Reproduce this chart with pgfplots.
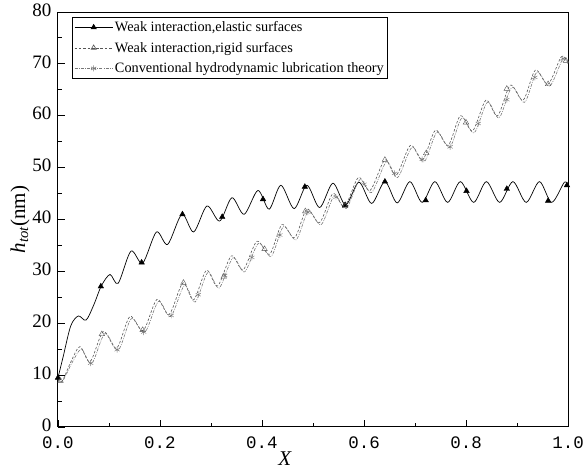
\documentclass[border=0pt]{standalone}
\usepackage{pgfplots}
\pgfplotsset{compat=1.18}
\usepackage{fontspec}
\setmainfont{Liberation Serif}
\newfontfamily\tickmono{Liberation Mono}
\definecolor{rigidgray}{RGB}{85,85,85}
\definecolor{convgray}{RGB}{120,120,120}
\begin{document}
\begin{tikzpicture}
\begin{axis}[
  scale only axis,
  width=510pt, height=415pt,
  xmin=0, xmax=1, ymin=0, ymax=80,
  xtick={0,0.2,0.4,0.6,0.8,1.0},
  ytick={0,10,...,80},
  minor xtick={0.1,0.3,0.5,0.7,0.9},
  minor ytick={5,15,...,75},
  tick align=inside,
  tick pos=left,
  major tick length=7pt,
  minor tick length=4pt,
  axis line style={line width=1pt},
  every tick/.style={line width=0.9pt, black},
  /pgf/number format/assume math mode=true,
  xticklabel style={font=\tickmono\fontsize{17.5}{19}\selectfont, /pgf/number format/fixed, /pgf/number format/fixed zerofill, /pgf/number format/precision=1, yshift=-6.5pt},
  yticklabel style={font=\fontsize{19}{21}\selectfont, xshift=-3pt, yshift=2pt},
  xlabel={\textit{X}},
  xlabel style={font=\fontsize{21}{23}\selectfont, yshift=4pt, xshift=-28pt},
  ylabel={\textit{h}\textsubscript{\textit{tot}}(nm)},
  ylabel style={font=\fontsize{21}{23}\selectfont, yshift=-4pt},
  legend cell align=left,
  legend style={at={(0.027,0.988)}, anchor=north west, draw=black, line width=1.2pt,
    font=\fontsize{14.3}{16}\selectfont, row sep=5pt, inner sep=2pt},
  legend image code/.code={\draw[mark repeat=2,mark phase=2,#1] plot coordinates {(0pt,0pt) (19pt,0pt) (38pt,0pt)};},
]
\addlegendimage{black, line width=0.6pt, mark=triangle*, mark size=3pt, mark options={solid, fill=black}}
\addlegendentry{Weak interaction,elastic surfaces}
\addlegendimage{rigidgray, line width=0.6pt, dash pattern=on 2.5pt off 1.8pt, mark=triangle, mark size=3pt, mark options={solid}}
\addlegendentry{Weak interaction,rigid surfaces}
\addlegendimage{convgray, line width=0.6pt, dash pattern=on 3pt off 1.2pt on 0.8pt off 1.2pt, mark=asterisk, mark size=3pt, mark options={solid}}
\addlegendentry{Conventional hydrodynamic lubrication theory}

% elastic curve
\addplot[black, line width=0.7pt, smooth, no markers, forget plot] coordinates {
(0.000,9.5) (0.010,13.5) (0.025,19.5) (0.040,21.4) (0.055,20.6) (0.070,23.5)
(0.085,27.2) (0.102,29.4) (0.118,27.7) (0.143,33.9) (0.166,31.6) (0.193,37.6)
(0.215,35.2) (0.243,41.0) (0.266,37.6) (0.292,42.6) (0.317,39.7) (0.341,44.2)
(0.365,41.0) (0.392,45.6) (0.414,42.0) (0.437,46.6) (0.463,42.1) (0.488,46.6)
(0.513,42.3) (0.539,47.0) (0.564,42.8) (0.590,47.2) (0.615,43.1) (0.641,47.3)
(0.665,43.2) (0.690,47.3) (0.714,43.3) (0.739,47.3) (0.764,43.3) (0.789,47.3)
(0.815,43.3) (0.840,47.3) (0.866,43.3) (0.892,47.3) (0.918,43.3) (0.944,47.3)
(0.968,43.3) (0.993,47.2) (1.000,46.3)
};
\addplot[only marks, mark=triangle*, mark size=3.2pt, black, forget plot] coordinates {
(0.000,9.5) (0.084,27.1) (0.164,31.7) (0.244,41.0) (0.322,40.5) (0.402,43.9)
(0.484,46.3) (0.563,42.8) (0.641,47.3) (0.721,43.7) (0.801,45.5) (0.880,45.9)
(0.961,43.6) (0.998,46.6)
};

% rigid curve
\addplot[rigidgray, line width=0.6pt, dash pattern=on 2.5pt off 1.8pt, smooth, no markers, forget plot] coordinates {
(0.000,9.2) (0.008,8.8) (0.025,12.5) (0.043,15.5) (0.063,12.6) (0.089,18.4)
(0.115,15.2) (0.141,21.3) (0.167,18.6) (0.194,24.6) (0.218,21.7) (0.245,27.8)
(0.266,24.5) (0.291,30.2) (0.313,27.2) (0.340,33.0) (0.363,30.3) (0.390,35.8)
(0.415,33.3) (0.439,39.0) (0.464,36.5) (0.488,42.0) (0.513,39.4) (0.539,45.0)
(0.562,42.5) (0.589,48.1) (0.612,45.6) (0.641,51.5) (0.663,48.5) (0.691,54.3)
(0.715,51.5) (0.740,57.2) (0.765,54.3) (0.789,60.0) (0.813,57.1) (0.839,63.0)
(0.862,60.0) (0.887,65.9) (0.912,63.0) (0.936,68.8) (0.961,66.1) (0.987,71.4)
(1.000,70.2)
};
\addplot[only marks, mark=triangle, mark size=3.2pt, rigidgray, forget plot] coordinates {
(0.005,8.9) (0.086,17.9) (0.166,18.7) (0.246,27.8) (0.325,29.0) (0.405,34.3)
(0.485,41.6) (0.563,42.6) (0.641,51.5) (0.722,52.8) (0.800,58.7) (0.880,65.2)
(0.961,66.1) (0.996,70.6)
};

% conventional curve
\addplot[convgray, line width=0.6pt, dash pattern=on 3pt off 1.2pt on 0.8pt off 1.2pt, smooth, no markers, forget plot] coordinates {
(0.000,9.0) (0.010,9.0) (0.027,12.3) (0.046,15.0) (0.066,12.2) (0.092,18.0)
(0.118,14.8) (0.144,20.9) (0.170,18.2) (0.197,24.2) (0.221,21.3) (0.248,27.3)
(0.269,24.1) (0.294,29.8) (0.316,26.8) (0.343,32.6) (0.366,29.9) (0.393,35.4)
(0.418,32.9) (0.442,38.6) (0.467,36.1) (0.491,41.6) (0.516,39.0) (0.542,44.6)
(0.565,42.1) (0.592,47.7) (0.615,45.2) (0.644,51.1) (0.666,48.1) (0.694,53.9)
(0.718,51.1) (0.743,56.8) (0.768,53.9) (0.792,59.6) (0.816,56.7) (0.842,62.6)
(0.865,59.6) (0.890,65.5) (0.915,62.6) (0.939,68.4) (0.964,65.7) (0.990,71.0)
(1.000,70.0)
};
\addplot[only marks, mark=asterisk, mark size=3pt, convgray, forget plot] coordinates {
(0.064,12.3) (0.116,14.9) (0.168,18.3) (0.222,21.5) (0.275,25.5) (0.327,29.2)
(0.380,32.7) (0.435,37.0) (0.490,41.4) (0.545,44.3) (0.600,46.8) (0.660,48.9)
(0.714,51.6) (0.769,54.0) (0.824,58.5) (0.880,63.1) (0.935,67.4) (0.990,71.0)
};
\end{axis}
\pgfresetboundingbox
\path (-58pt,-46pt) rectangle (525pt,427pt);
\end{tikzpicture}
\end{document}
